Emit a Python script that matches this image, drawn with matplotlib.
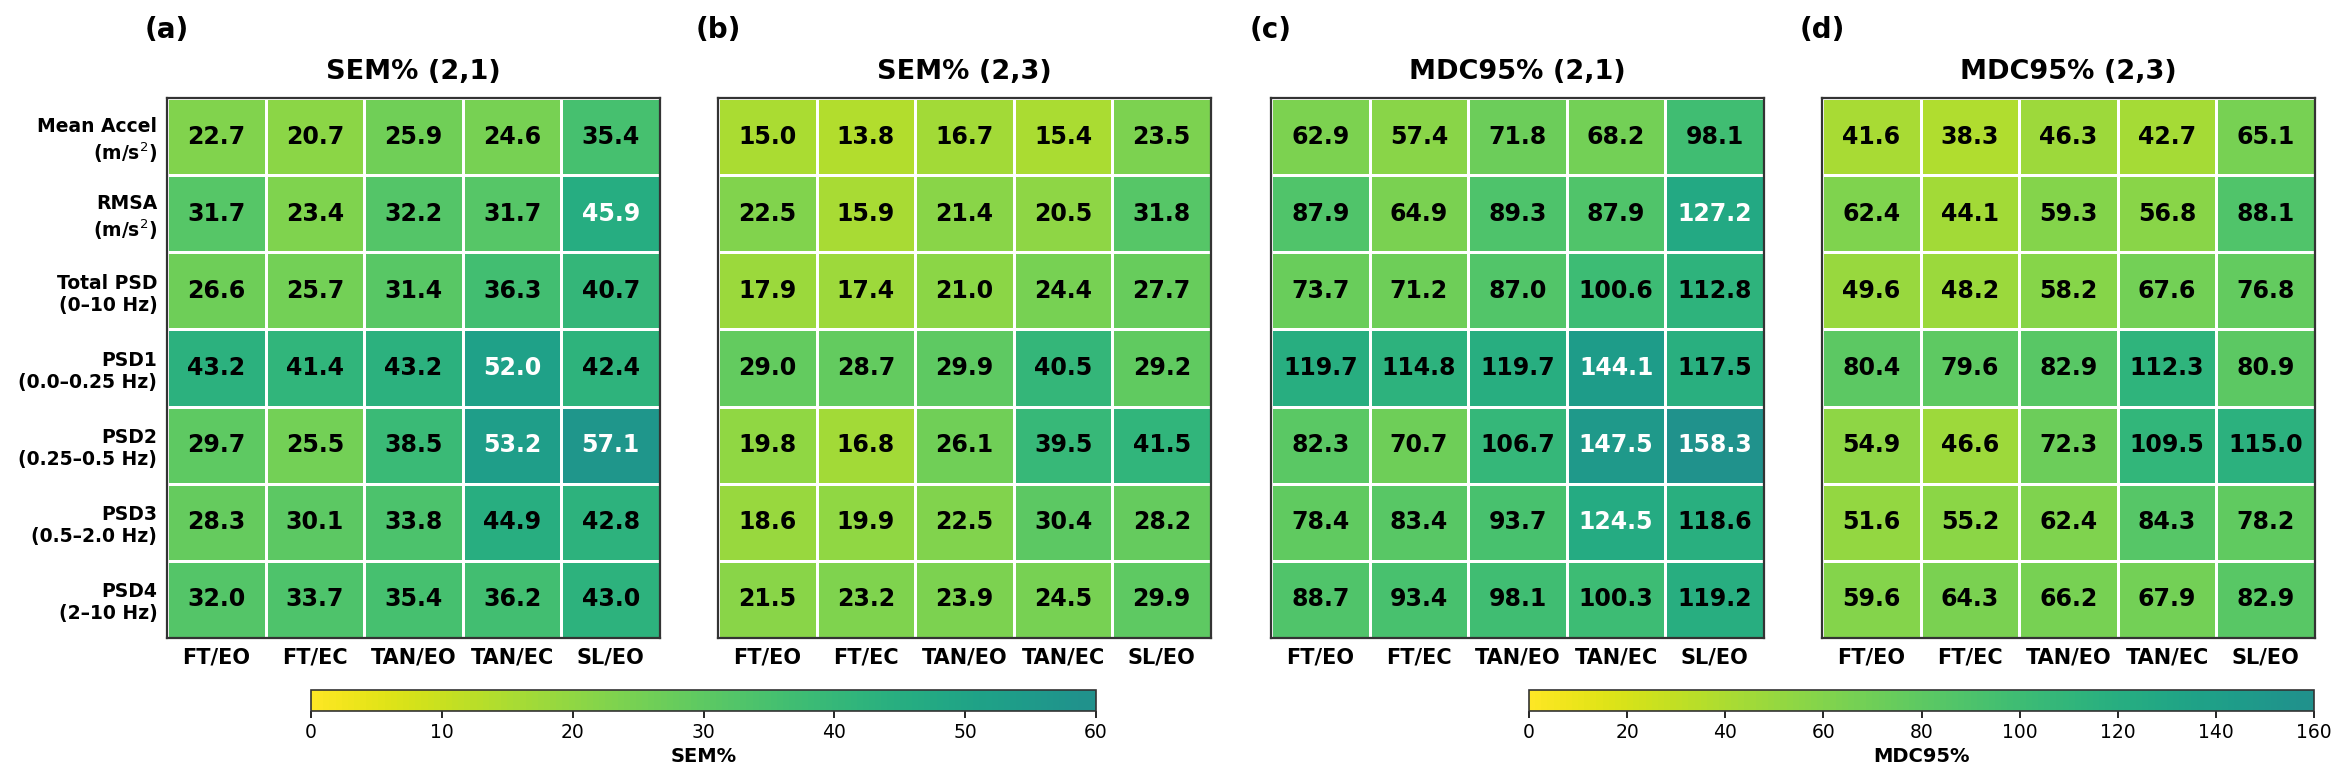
"""Heatmaps SEM% / MDC95% for ICC(2,1) and ICC(2,3)."""
import numpy as np
import matplotlib
matplotlib.use("Agg")
import matplotlib.pyplot as plt
from matplotlib.colors import ListedColormap

W, H = 2346, 781

conditions = ["FT/EO", "FT/EC", "TAN/EO", "TAN/EC", "SL/EO"]
features = [
    "Mean Accel\n(m/s$^2$)",
    "RMSA\n(m/s$^2$)",
    "Total PSD\n(0–10 Hz)",
    "PSD1\n(0.0–0.25 Hz)",
    "PSD2\n(0.25–0.5 Hz)",
    "PSD3\n(0.5–2.0 Hz)",
    "PSD4\n(2–10 Hz)",
]

sem_21 = [
    [22.7, 20.7, 25.9, 24.6, 35.4],
    [31.7, 23.4, 32.2, 31.7, 45.9],
    [26.6, 25.7, 31.4, 36.3, 40.7],
    [43.2, 41.4, 43.2, 52.0, 42.4],
    [29.7, 25.5, 38.5, 53.2, 57.1],
    [28.3, 30.1, 33.8, 44.9, 42.8],
    [32.0, 33.7, 35.4, 36.2, 43.0],
]
sem_23 = [
    [15.0, 13.8, 16.7, 15.4, 23.5],
    [22.5, 15.9, 21.4, 20.5, 31.8],
    [17.9, 17.4, 21.0, 24.4, 27.7],
    [29.0, 28.7, 29.9, 40.5, 29.2],
    [19.8, 16.8, 26.1, 39.5, 41.5],
    [18.6, 19.9, 22.5, 30.4, 28.2],
    [21.5, 23.2, 23.9, 24.5, 29.9],
]
mdc_21 = [
    [62.9, 57.4, 71.8, 68.2, 98.1],
    [87.9, 64.9, 89.3, 87.9, 127.2],
    [73.7, 71.2, 87.0, 100.6, 112.8],
    [119.7, 114.8, 119.7, 144.1, 117.5],
    [82.3, 70.7, 106.7, 147.5, 158.3],
    [78.4, 83.4, 93.7, 124.5, 118.6],
    [88.7, 93.4, 98.1, 100.3, 119.2],
]
mdc_23 = [
    [41.6, 38.3, 46.3, 42.7, 65.1],
    [62.4, 44.1, 59.3, 56.8, 88.1],
    [49.6, 48.2, 58.2, 67.6, 76.8],
    [80.4, 79.6, 82.9, 112.3, 80.9],
    [54.9, 46.6, 72.3, 109.5, 115.0],
    [51.6, 55.2, 62.4, 84.3, 78.2],
    [59.6, 64.3, 66.2, 67.9, 82.9],
]

panels = [
    ("(a)", "SEM% (2,1)", sem_21, 60),
    ("(b)", "SEM% (2,3)", sem_23, 60),
    ("(c)", "MDC95% (2,1)", mdc_21, 160),
    ("(d)", "MDC95% (2,3)", mdc_23, 160),
]

# yellow -> teal : upper half of viridis, reversed
cmap = ListedColormap(plt.get_cmap("viridis")(np.linspace(1.0, 0.5, 256)))

fig = plt.figure(figsize=(W / 100, H / 100), dpi=100)

def px_rect(x0, y0, x1, y1):
    return [x0 / W, 1 - y1 / H, (x1 - x0) / W, (y1 - y0) / H]

lefts = [167, 718, 1271, 1822]
meshes = []
for k, (tag, title, vals, vmax) in enumerate(panels):
    ax = fig.add_axes(px_rect(lefts[k], 98, lefts[k] + 493, 638))
    z = np.array(vals)
    m = ax.pcolormesh(z, cmap=cmap, vmin=0, vmax=vmax,
                      edgecolors="white", linewidth=1.8)
    meshes.append(m)
    ax.set_xlim(0, z.shape[1])
    ax.set_ylim(z.shape[0], 0)
    for i in range(z.shape[0]):
        for j in range(z.shape[1]):
            v = z[i, j]
            ax.text(j + 0.5, i + 0.5, f"{v:.1f}", ha="center", va="center",
                    fontsize=17, fontweight="bold",
                    color="white" if v > 0.75 * vmax else "black")
    ax.set_xticks(np.arange(z.shape[1]) + 0.5)
    ax.set_xticklabels(conditions, fontsize=15, fontweight="bold")
    ax.set_yticks(np.arange(z.shape[0]) + 0.5)
    if k == 0:
        ax.set_yticklabels(features, fontsize=13.5, fontweight="bold")
    else:
        ax.set_yticklabels([])
    ax.tick_params(length=0, pad=7)
    for s in ax.spines.values():
        s.set_linewidth(1.6)
        s.set_color("#333333")
    ax.set_title(title, fontsize=19.5, fontweight="bold", pad=14)
    ax.text(0, 1.126, tag, transform=ax.transAxes, ha="center", va="center",
            fontsize=20, fontweight="bold")

for (x0, x1), m, lab, ticks in [
    ((311, 1096), meshes[0], "SEM%", np.arange(0, 61, 10)),
    ((1529, 2314), meshes[2], "MDC95%", np.arange(0, 161, 20)),
]:
    cax = fig.add_axes(px_rect(x0, 690, x1, 711))
    cb = fig.colorbar(m, cax=cax, orientation="horizontal", ticks=ticks)
    cb.outline.set_edgecolor("#333333")
    cb.outline.set_linewidth(1.2)
    cax.tick_params(labelsize=13.5, length=5, width=1.2, pad=4)
    cb.set_label(lab, fontsize=14, fontweight="bold", labelpad=3)

fig.savefig("out.png", dpi=100)
